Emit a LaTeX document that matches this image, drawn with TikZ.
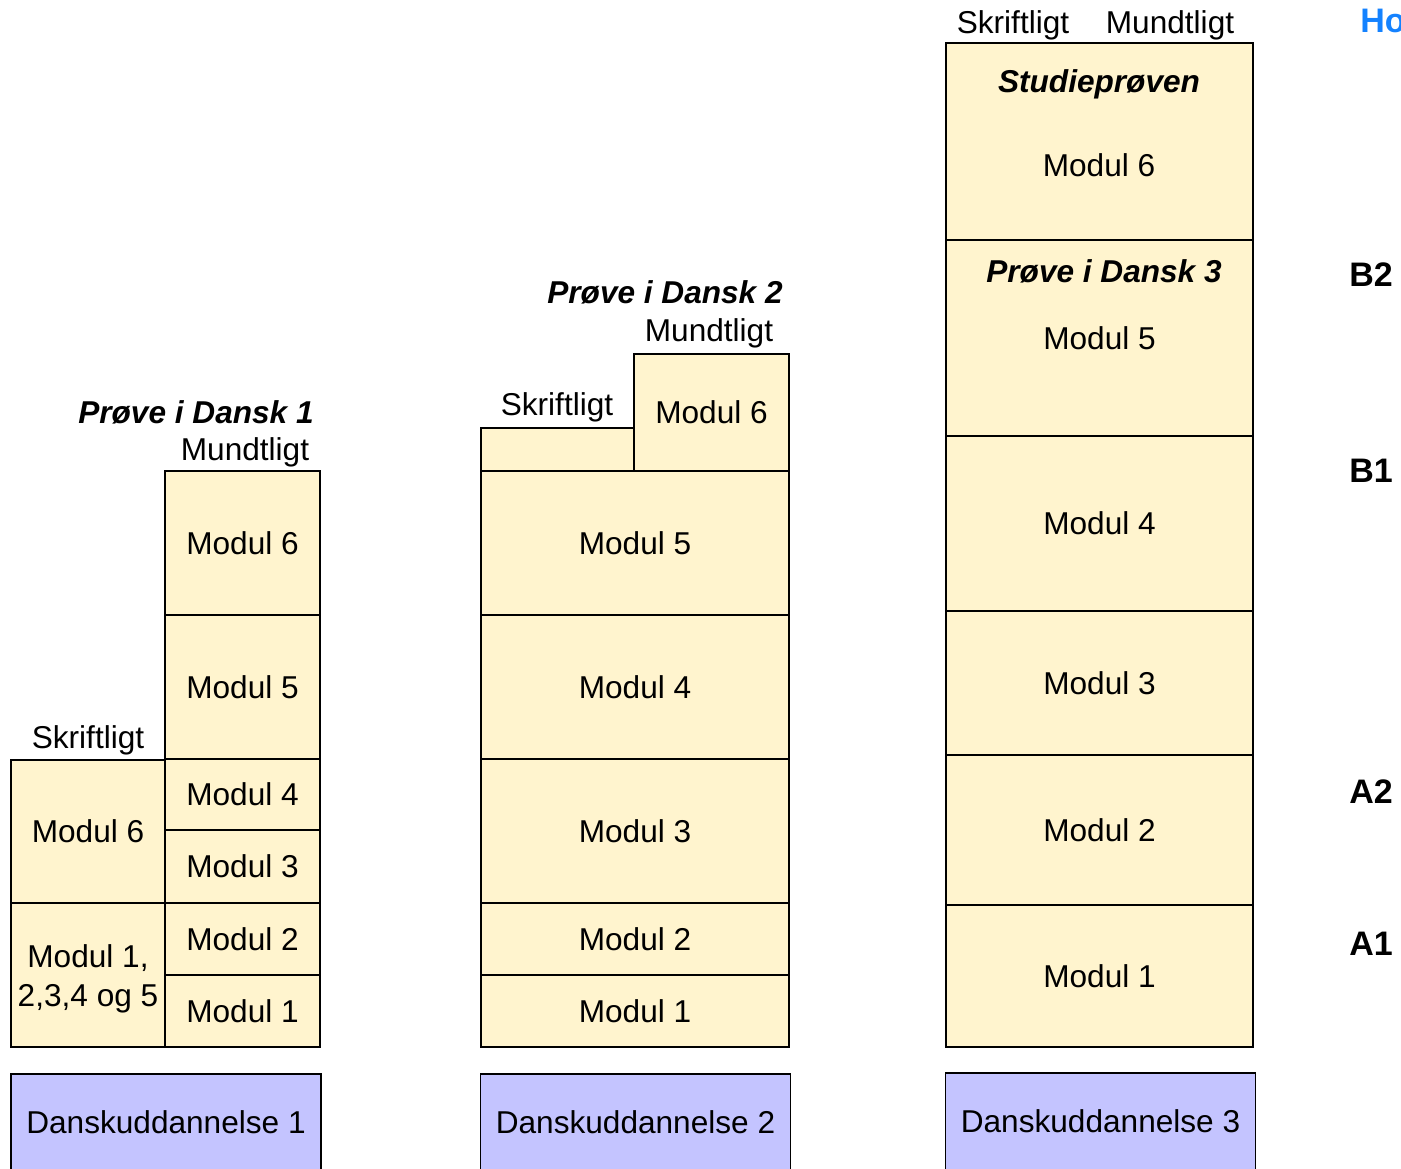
\documentclass[tikz,border=0pt]{standalone}
\usepackage{fontspec}
\setmainfont{Liberation Sans}
\definecolor{modcream}{RGB}{255,244,206}
\definecolor{dulilac}{RGB}{196,196,255}
\definecolor{lvlblue}{RGB}{20,130,255}

\begin{document}
\begin{tikzpicture}[x=0.5pt, y=-0.5pt, font=\fontsize{15.8}{19.5}\selectfont,
        modul/.style ={rectangle, draw=black, fill=modcream, line width=0.75pt,
        inner sep=0pt, outer sep=0pt, align=center},
        du/.style ={rectangle, draw=black, fill=dulilac, line width=0.75pt,
        inner sep=0pt, outer sep=0pt, minimum width=155pt, minimum height=48.5pt},
        title/.style ={font=\fontsize{15.8}{19.5}\selectfont\bfseries\itshape},
        lvl/.style ={font=\fontsize{17}{20}\selectfont\bfseries}]

    \useasboundingbox (0,0) rectangle (1401,1168);

    %\node [estilo] (nombre) at (x,y) {texto};  -- columna 1
    \node[modul, minimum width=77.5pt, minimum height=72pt] (a6) at (242.5,543) {Modul 6};
    \node[modul, minimum width=77.5pt, minimum height=72pt] (a5) at (242.5,687) {Modul 5};
    \node[modul, minimum width=77.5pt, minimum height=35.5pt] (a4) at (242.5,794.5) {Modul 4};
    \node[modul, minimum width=77.5pt, minimum height=36.5pt] (a3) at (242.5,866.5) {Modul 3};
    \node[modul, minimum width=77.5pt, minimum height=36pt] (a2) at (242.5,939) {Modul 2};
    \node[modul, minimum width=77.5pt, minimum height=36pt] (a1) at (242.5,1011) {Modul 1};
    \node[modul, minimum width=77pt, minimum height=71.5pt] (as6) at (88,831.5) {Modul 6};
    \node[modul, minimum width=77pt, minimum height=72pt] (as1) at (88,975) {};
    \node[align=center] (as1t) at (88,979) {Modul 1,\\2,3,4 og 5};
    \node[title] (pd1) at (196,412) {Prøve i Dansk 1};
    \node (am) at (245,452) {Mundtligt};
    \node (as) at (88,740) {Skriftligt};
    \node[du] (du1) at (166,1122.5) {Danskuddannelse 1};

    % columna 2
    \node[modul, minimum width=154pt, minimum height=36pt] (b1) at (635,1011) {Modul 1};
    \node[modul, minimum width=154pt, minimum height=36pt] (b2) at (635,939) {Modul 2};
    \node[modul, minimum width=154pt, minimum height=72pt] (b3) at (635,831) {Modul 3};
    \node[modul, minimum width=154pt, minimum height=72pt] (b4) at (635,687) {Modul 4};
    \node[modul, minimum width=154pt, minimum height=72pt] (b5) at (635,543) {Modul 5};
    \node[modul, minimum width=76.5pt, minimum height=21.5pt] (bs6) at (557.5,449.5) {};
    \node[modul, minimum width=77.5pt, minimum height=58.5pt] (b6) at (711.5,412.5) {Modul 6};
    \node (bs) at (557,407) {Skriftligt};
    \node (bm) at (709,333) {Mundtligt};
    \node[title] (pd2) at (665,292) {Prøve i Dansk 2};
    \node[du] (du2) at (635.5,1122.5) {Danskuddannelse 2};

    % columna 3
    \node[modul, minimum width=153.5pt, minimum height=71pt] (c1) at (1099.5,976) {Modul 1};
    \node[modul, minimum width=153.5pt, minimum height=75pt] (c2) at (1099.5,830) {Modul 2};
    \node[modul, minimum width=153.5pt, minimum height=72pt] (c3) at (1099.5,683) {Modul 3};
    \node[modul, minimum width=153.5pt, minimum height=87.5pt] (c4) at (1099.5,523.5) {Modul 4};
    \node[modul, minimum width=153.5pt, minimum height=98pt] (c5) at (1099.5,338) {Modul 5};
    \node[modul, minimum width=153.5pt, minimum height=98.5pt] (c6) at (1099.5,141.5) {};
    \node (c6t) at (1099,165) {Modul 6};
    \node[title] (sp) at (1099,84) {Studieprøven};
    \node[title] (pd3) at (1104,271) {Prøve i Dansk 3};
    \node (cs) at (1013,25) {Skriftligt};
    \node (cm) at (1170,25) {Mundtligt};
    \node[du] (du3) at (1100.5,1121.5) {Danskuddannelse 3};

    % niveauer
    \node[lvl] (b2l) at (1371,275) {B2};
    \node[lvl] (b1l) at (1371,471) {B1};
    \node[lvl] (a2l) at (1371,792) {A2};
    \node[lvl] (a1l) at (1371,944) {A1};
    \node[lvl, text=lvlblue, anchor=west, inner sep=0pt] (ho) at (1360,21) {Ho};
\end{tikzpicture}
\end{document}
